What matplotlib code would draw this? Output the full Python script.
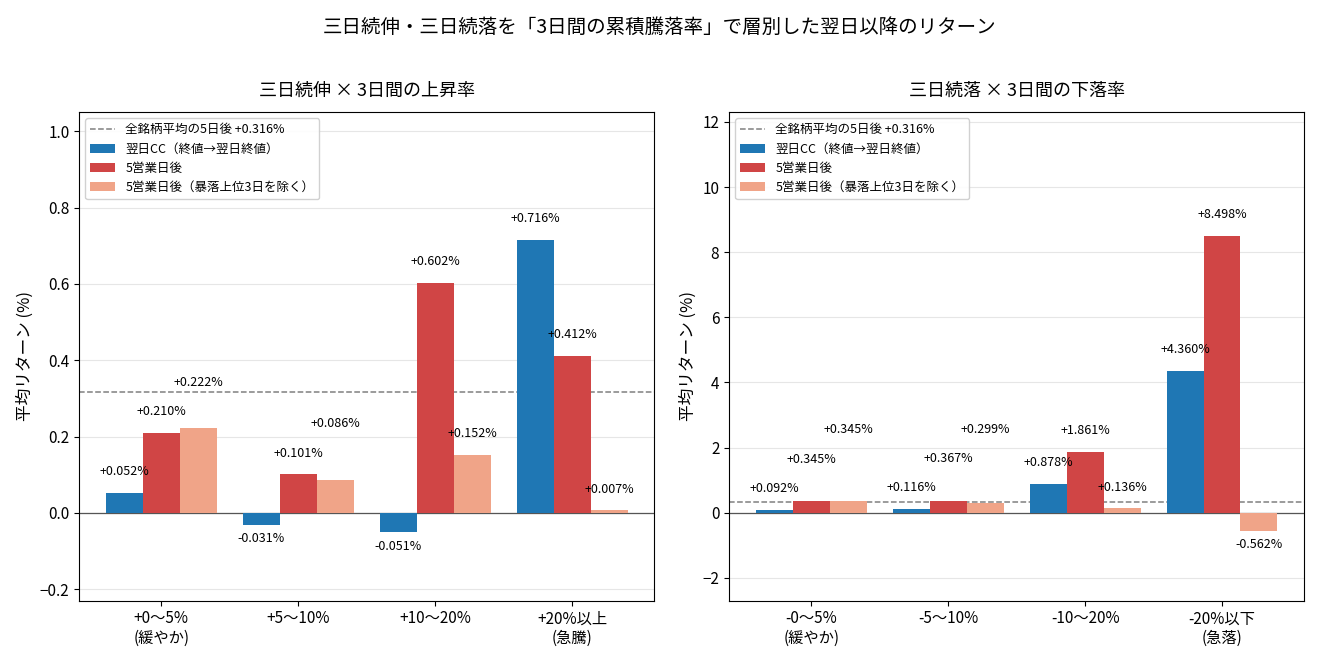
import numpy as np
import matplotlib
matplotlib.use("Agg")
import matplotlib.pyplot as plt

plt.rcParams['font.family'] = ['Noto Sans CJK JP', 'DejaVu Sans']

series_names = ["翌日CC（終値→翌日終値）", "5営業日後", "5営業日後（暴落上位3日を除く）"]
colors = ["#1f77b4", "#d04545", "#f0a488"]
avg_5d = 0.316

up_cats = ["+0〜5%\n(緩やか)", "+5〜10%", "+10〜20%", "+20%以上\n(急騰)"]
up_cc = [0.052, -0.031, -0.051, 0.716]
up_5d = [0.210, 0.101, 0.602, 0.412]
up_5d_ex = [0.222, 0.086, 0.152, 0.007]

down_cats = ["-0〜5%\n(緩やか)", "-5〜10%", "-10〜20%", "-20%以下\n(急落)"]
down_cc = [0.092, 0.116, 0.878, 4.360]
down_5d = [0.345, 0.367, 1.861, 8.498]
down_5d_ex = [0.345, 0.299, 0.136, -0.562]

fig, axes = plt.subplots(1, 2, figsize=(13.2, 6.6), dpi=100)
fig.suptitle("三日続伸・三日続落を「3日間の累積騰落率」で層別した翌日以降のリターン", fontsize=14, y=0.975)

def draw(ax, cats, vals, title, ylim):
    x = np.arange(len(cats))
    w = 0.27
    span = ylim[1] - ylim[0]
    ax.axhline(avg_5d, color="gray", ls="--", lw=1.1, label=f"全銘柄平均の5日後 +{avg_5d:.3f}%")
    ax.axhline(0, color="#555555", lw=0.9)
    for j, (v, c, n) in enumerate(zip(vals, colors, series_names)):
        xs = x + (j - 1) * w
        ax.bar(xs, v, w, color=c, label=n, zorder=2)
    for i in range(len(cats)):
        prev_y = None
        for j in range(3):
            v = vals[j][i]
            xs = x[i] + (j - 1) * w
            if v >= 0:
                y = v + 0.03 * span
                if prev_y is not None and abs(y - prev_y) < 0.05 * span:
                    y = prev_y + 0.06 * span
                prev_y = y
                ax.text(xs, y, f"+{v:.3f}%", ha="center", va="bottom", fontsize=9)
            else:
                ax.text(xs, v - 0.015 * span, f"{v:.3f}%", ha="center", va="top", fontsize=9)
    ax.set_xticks(x)
    ax.set_xticklabels(cats, fontsize=11)
    ax.set_ylim(*ylim)
    ax.set_xlim(-0.6, len(cats) - 0.4)
    ax.set_ylabel("平均リターン (%)", fontsize=12)
    ax.set_title(title, fontsize=13, pad=12)
    ax.grid(axis="y", color="#e6e6e6", lw=0.8, zorder=0)
    ax.set_axisbelow(True)
    ax.tick_params(axis="y", labelsize=11)
    ax.legend(loc="upper left", fontsize=9, framealpha=0.9)

draw(axes[0], up_cats, [up_cc, up_5d, up_5d_ex], "三日続伸 × 3日間の上昇率", (-0.23, 1.05))
draw(axes[1], down_cats, [down_cc, down_5d, down_5d_ex], "三日続落 × 3日間の下落率", (-2.7, 12.3))

plt.subplots_adjust(left=0.06, right=0.988, top=0.83, bottom=0.09, wspace=0.13)
fig.savefig("out.png")
